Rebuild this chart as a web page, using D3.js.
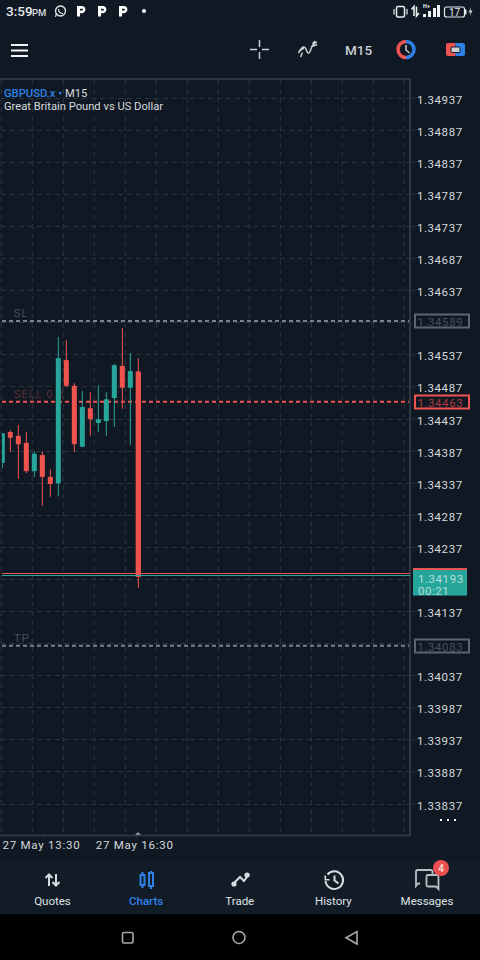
<!DOCTYPE html>
<html><head><meta charset="utf-8">
<script src="https://cdn.jsdelivr.net/npm/d3@7/dist/d3.min.js"></script>
<style>html,body{margin:0;padding:0;background:#000}svg{display:block}text{font-family:Roboto,sans-serif}</style>
</head><body><svg id="c" width="480" height="960"></svg>
<script>
// price data in 1e-5 points above 1.3
const opens  = [34368,34416,34410,34399,34355,34380,34346,34336,34528,34488,34393,34453,34430,34433,34469,34519,34485,34510];
const highs  = [34414,34419,34427,34416,34386,34386,34358,34564,34559,34492,34480,34478,34489,34478,34522,34578,34539,34531];
const lows   = [34360,34385,34343,34352,34346,34301,34315,34316,34486,34385,34393,34410,34416,34410,34424,34452,34396,34173];
const closes = [34414,34407,34397,34355,34382,34346,34335,34531,34488,34397,34455,34436,34436,34467,34520,34485,34511,34190];
const priceTicks = [34937,34887,34837,34787,34737,34687,34637,34537,34487,34437,34387,34337,34287,34237,34137,34037,33987,33937,33887,33837];
const gridOnlyTicks = [34587,34187,34087];
const levelValues = [34589,34463,34083];
const levelNames = ["SL","SELL 0.2","TP"];
const askPrice = 34196, bidPrice = 34193;
const countdown = "00:21";
const timeTicks = ["27 May 13:30","27 May 16:30"];
const navLabels = ["Quotes","Charts","Trade","History","Messages"];
const symbolName = "GBPUSD.x", timeframe = "M15", description = "Great Britain Pound vs US Dollar";

const BG="#101923", BAR="#121c26", GRID="#2a3540", FRAME="#2b3743", RED="#ef5350", TEAL="#26a69a", TXT="#d5d9dc", ICON="#c9ced3";
const fmt = v => "1."+v;
const svg = d3.select("#c");
svg.append("rect").attr("width",480).attr("height",960).attr("fill",BG);

const y = d3.scaleLinear().domain([34937,33837]).range([97.7,803.5]);
const x = d3.scaleLinear().domain([0,opens.length-1]).range([2.33,138.33]);
const gx = d3.scaleLinear().domain([0,13]).range([1.3,404.3]);
const tx = d3.scalePoint().domain(timeTicks).range([43.5,136.7]);

svg.append("defs").append("clipPath").attr("id","plot").append("rect").attr("x",2).attr("y",80).attr("width",407).attr("height",754);

// grid
const grid = svg.append("g").attr("stroke",GRID).attr("stroke-width",1).attr("stroke-dasharray","5 4").attr("fill","none");
grid.selectAll(".v").data(d3.range(14)).join("line").attr("x1",d=>gx(d)).attr("x2",d=>gx(d)).attr("y1",80).attr("y2",834);
grid.selectAll(".h").data(priceTicks.concat(gridOnlyTicks)).join("line").attr("x1",1).attr("x2",409).attr("y1",d=>Math.round(y(d))+.5).attr("y2",d=>Math.round(y(d))+.5);

// frame
svg.append("path").attr("d","M0 79H410V835.5H0").attr("fill","none").attr("stroke",FRAME).attr("stroke-width",2);

// level labels (behind candles)
const lvlText=["#5f6873","#7d3438","#5f6873"];
svg.append("g").selectAll("text").data(levelNames).join("text")
 .attr("x",14).attr("y",(d,i)=>y(levelValues[i])-4).attr("font-size",11).attr("font-weight",300).attr("letter-spacing",1.1)
 .attr("fill",(d,i)=>lvlText[i]).text(d=>d);

// level lines
svg.append("g").selectAll("line").data(levelValues).join("line")
 .attr("x1",2).attr("x2",409).attr("y1",d=>y(d)).attr("y2",d=>y(d))
 .attr("stroke",(d,i)=>i==1?RED:"#7a838d").attr("stroke-width",2).attr("stroke-dasharray","4 3");

// candles
const plot = svg.append("g").attr("clip-path","url(#plot)");
const idx = d3.range(opens.length);
const col = i => closes[i]>=opens[i]?TEAL:RED;
plot.selectAll("line.w").data(idx).join("line").attr("class","w")
 .attr("x1",i=>x(i)).attr("x2",i=>x(i)).attr("y1",i=>y(highs[i])).attr("y2",i=>y(lows[i]))
 .attr("stroke",col).attr("stroke-width",1);
plot.selectAll("rect.b").data(idx).join("rect").attr("class","b")
 .attr("x",i=>x(i)-2.5).attr("width",5)
 .attr("y",i=>y(Math.max(opens[i],closes[i])))
 .attr("height",i=>Math.abs(y(opens[i])-y(closes[i])))
 .attr("fill",col);

// bid / ask lines
const crisp = v => Math.floor(v)+.5;
svg.append("line").attr("x1",2).attr("x2",410).attr("y1",crisp(y(askPrice))).attr("y2",crisp(y(askPrice))).attr("stroke",RED).attr("stroke-width",1);
svg.append("line").attr("x1",2).attr("x2",410).attr("y1",crisp(y(bidPrice))).attr("y2",crisp(y(bidPrice))).attr("stroke",TEAL).attr("stroke-width",1);
// last candle sits on top of the lines except its body end
plot.append("rect").attr("x",x(17)-2.5).attr("width",5).attr("y",y(opens[17])).attr("height",y(closes[17])-y(opens[17])).attr("fill",RED);

// price axis
const ax = svg.append("g").attr("transform","translate(411,0)")
 .call(d3.axisRight(y).tickValues(priceTicks).tickSize(4).tickPadding(2).tickFormat(fmt));
ax.select(".domain").remove();
ax.selectAll("line").attr("stroke",GRID);
ax.selectAll("text").attr("fill",TXT).attr("font-size",11.5).attr("letter-spacing",0.55).attr("dy","0.48em").attr("font-family","Roboto");

// level boxes
levelValues.forEach((v,i)=>{
  const yy=Math.round(y(v));
  svg.append("rect").attr("x",415).attr("y",yy-6.5).attr("width",54).attr("height",13)
   .attr("fill",BG).attr("stroke",i==1?RED:"#5b6672").attr("stroke-width",2);
  svg.append("text").attr("x",417.5).attr("y",yy+4.6).attr("font-size",11.5).attr("letter-spacing",0.55)
   .attr("fill",i==1?"#a83a3c":"#444f5b").text(fmt(v));
});

// current price box
const by=y(bidPrice);
svg.append("rect").attr("x",413).attr("y",by-7).attr("width",54).attr("height",27.5).attr("fill",TEAL);
svg.append("rect").attr("x",413).attr("y",by-7).attr("width",54).attr("height",2).attr("fill",RED);
svg.append("text").attr("x",418).attr("y",by+7.5).attr("font-size",11.5).attr("letter-spacing",0.55).attr("fill","#b5dfda").text(fmt(bidPrice));
svg.append("text").attr("x",418).attr("y",by+20).attr("font-size",11.5).attr("letter-spacing",0.55).attr("fill","#b5dfda").text(countdown);

// time axis
const tax = svg.append("g").attr("transform","translate(0,836)")
 .call(d3.axisBottom(tx).tickSize(2).tickPadding(3));
tax.select(".domain").remove();
tax.selectAll("line").attr("stroke",FRAME);
tax.selectAll("text").attr("fill",TXT).attr("font-size",11.5).attr("letter-spacing",0.75).attr("font-family","Roboto").attr("dx",-2.5);
svg.append("path").attr("d","M135 835L138 832L141 835Z").attr("fill","#8a939c");
svg.append("g").attr("fill","#fff").selectAll("rect").data([0,1,2]).join("rect").attr("x",d=>440+d*7).attr("y",819).attr("width",2).attr("height",2);

// legend
svg.append("text").attr("x",4).attr("y",97).attr("font-size",11.2).attr("font-weight",500).attr("fill","#2f81ea").text(symbolName);
svg.append("path").attr("d","M58.5 92L62 92L60.2 95Z").attr("fill","#2f81ea");
svg.append("text").attr("x",65).attr("y",97).attr("font-size",11.2).attr("fill",TXT).text(timeframe);
svg.append("text").attr("x",4).attr("y",110).attr("font-size",11.2).attr("fill",TXT).text(description);

// status bar
svg.append("text").attr("x",6).attr("y",16).attr("font-size",13.5).attr("font-weight",500).attr("fill","#e8eaec").text("3:59");
svg.append("text").attr("x",32).attr("y",16).attr("font-size",9.5).attr("font-weight",500).attr("fill","#d8dbde").text("PM");
const st=svg.append("g").attr("fill","none").attr("stroke","#e8eaec");
st.append("circle").attr("cx",60.5).attr("cy",11).attr("r",5).attr("stroke-width",1.3);
st.append("path").attr("d","M55.5 16.8L56.6 13M58.5 9C58.5 12 60 13.5 63 13.5").attr("stroke-width",1.2);
[81,102,123].forEach(px=>{
 svg.append("path").attr("d",`M${px-4} 6H${px+1.5}A3.7 3.7 0 0 1 ${px+1.5} 13.2H${px-1}V16.5H${px-4}ZM${px-1} 8.8V10.6H${px+1}A.9 .9 0 0 0 ${px+1} 8.8Z`).attr("fill","#fff").attr("fill-rule","evenodd");
});
svg.append("circle").attr("cx",144).attr("cy",11).attr("r",2).attr("fill","#fff");
// vibrate + data arrows + signal + battery
st.append("rect").attr("x",396.5).attr("y",6.5).attr("width",8).attr("height",10.5).attr("rx",1.5).attr("stroke-width",1.5);
st.append("path").attr("d","M394 9V14.5M407 9V14.5").attr("stroke-width",1.2);
st.append("path").attr("d","M414 16V6.5L411.5 9.5M416.5 6.5V16L419 13").attr("stroke-width",1.6);
svg.append("g").attr("fill","#f0f1f2").selectAll("rect").data([[423,13,3],[428,10,6],[433,7,9],[437,5,12]]).join("rect")
 .attr("x",d=>d[0]).attr("y",d=>5+12-d[2]).attr("width",3).attr("height",d=>d[2]);
svg.append("text").attr("x",423).attr("y",8).attr("font-size",5.5).attr("font-weight",700).attr("fill","#f0f1f2").text("H+");
st.append("rect").attr("x",444.5).attr("y",7).attr("width",20).attr("height",10).attr("rx",2).attr("stroke-width",1.2);
svg.append("rect").attr("x",465).attr("y",9.5).attr("width",1.5).attr("height",5).attr("fill","#e8eaec");
svg.append("text").attr("x",449).attr("y",16).attr("font-size",10).attr("fill","#e8eaec").text("17");
svg.append("path").attr("d","M471 7L468.5 12.5H470.5L470 16L472.5 10.5H470.5Z").attr("fill","#c9ced3");

// toolbar
svg.append("path").attr("d","M11 45H28M11 50.5H28M11 56H28").attr("stroke","#f2f3f4").attr("stroke-width",2);
svg.append("path").attr("d","M250 49.5H257M262 49.5H269M259.5 40V47M259.5 52V59").attr("stroke",ICON).attr("stroke-width",1.5);
svg.append("path").attr("d","M298.5 53C302 47 304 45 306 49C307.500 54 309 55 311 49C312 45 314 43 317 42M299 51L304 48M300.500 57L302.500 52.500M311 47L317 44.500M312.500 44L315 41").attr("fill","none").attr("stroke",ICON).attr("stroke-width",1.5);
svg.append("text").attr("x",345).attr("y",54.5).attr("font-size",13.5).attr("font-weight",500).attr("fill",ICON).text(timeframe);
svg.append("path").attr("d","M406 41.5A8 8 0 0 0 406 57.5").attr("fill","none").attr("stroke",RED).attr("stroke-width",3.5);
svg.append("path").attr("d","M406 41.5A8 8 0 0 1 406 57.5").attr("fill","none").attr("stroke","#2f81ea").attr("stroke-width",3.5);
svg.append("path").attr("d","M406 45V50L409.5 53").attr("fill","none").attr("stroke","#c9ced3").attr("stroke-width",1.5);
svg.append("path").attr("d","M455.5 43H448A2 2 0 0 0 446 45V54A2 2 0 0 0 448 56H455.500Z").attr("fill",RED);
svg.append("path").attr("d","M455.5 43H463A2 2 0 0 1 465 45V54A2 2 0 0 1 463 56H455.500Z").attr("fill","#2f81ea");
svg.append("rect").attr("x",451).attr("y",47).attr("width",9).attr("height",5.5).attr("rx",1).attr("fill","#c9ced3").attr("stroke",BG).attr("stroke-width",1);

// bottom nav
svg.append("rect").attr("y",860).attr("width",480).attr("height",54).attr("fill",BAR);
svg.append("rect").attr("y",914).attr("width",480).attr("height",46).attr("fill","#000");
const navX = d3.scalePoint().domain(navLabels).range([52.5,427]);
svg.append("g").selectAll("text").data(navLabels).join("text")
 .attr("x",d=>navX(d)).attr("y",904.5).attr("text-anchor","middle").attr("font-size",11.5)
 .attr("font-weight",d=>d=="Charts"?500:400).attr("fill",d=>d=="Charts"?"#2f81ea":"#dfe3e6").text(d=>d);
const ic={fill:"none",stroke:"#d8dcdf","stroke-width":2};
const P=(d,o={})=>{const p=svg.append("path").attr("d",d);Object.entries({...ic,...o}).forEach(([k,v])=>p.attr(k,v));return p;};
P("M49 886V874.5M45.5 878L49 874.5L52.5 878M56 874V885.5M52.5 882L56 885.5L59.5 882");
// charts
P("M140.500 875H144.500V885H140.500ZM142.500 872V875M142.500 885V888M149 873H153V886H149ZM151 871V873M151 886V889",{stroke:"#2f81ea"});
// trade
P("M233 884L240 877L244 881L249 874");
svg.append("circle").attr("cx",234).attr("cy",884).attr("r",2.6).attr("fill","#d8dcdf");
svg.append("circle").attr("cx",247).attr("cy",875).attr("r",2.6).attr("fill","#d8dcdf");
// history
P("M327.500 874.500A8.800 8.800 0 1 1 325.500 881");
P("M325.300 875.500V879.700H329.500",{"stroke-width":1.6});
P("M334.500 875.500V880.500L338.500 883.500");
// messages
P("M420 883.500H418L416 886V871.500A1.500 1.500 0 0 1 417.500 870H431A1.500 1.500 0 0 1 432.500 871.500V874",{"stroke-width":1.8,stroke:"#b9bec3"});
P("M428 875H437A1.500 1.500 0 0 1 438.500 876.500V889L436 886.500H428A1.500 1.500 0 0 1 426.500 885V876.500A1.500 1.500 0 0 1 428 875Z",{"stroke-width":1.8,stroke:"#b9bec3"});
svg.append("circle").attr("cx",441).attr("cy",868).attr("r",8).attr("fill","#ee4e4f");
svg.append("text").attr("x",441).attr("y",871.5).attr("text-anchor","middle").attr("font-size",10).attr("font-weight",700).attr("fill","#f3d5d5").text("4");
// android nav
const an={fill:"none",stroke:"#a9a9a9","stroke-width":1.6};
const A=(sel)=>{Object.entries(an).forEach(([k,v])=>sel.attr(k,v));};
A(svg.append("rect").attr("x",122.500).attr("y",932.500).attr("width",10.500).attr("height",10.500).attr("rx",1.500));
A(svg.append("circle").attr("cx",239).attr("cy",937.500).attr("r",6));
A(svg.append("path").attr("d","M357 931.500V944L346 937.700Z"));
</script></body></html>
